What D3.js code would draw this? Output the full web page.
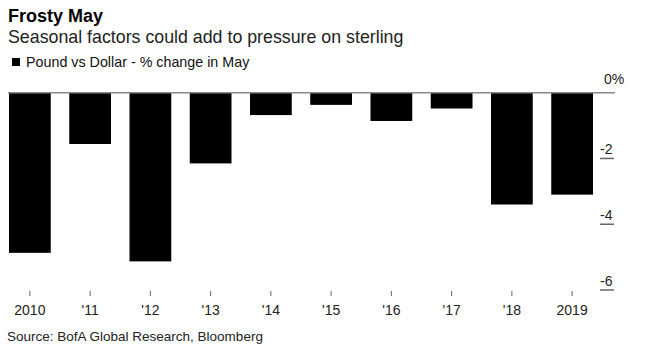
<!DOCTYPE html>
<html><head><meta charset="utf-8">
<script src="https://cdn.jsdelivr.net/npm/d3@7"></script>
<style>
html,body{margin:0;padding:0;background:#fff;}
svg{display:block;font-family:"Liberation Sans",Arial,Helvetica,sans-serif;}
</style></head>
<body>
<svg id="chart" width="649" height="350"></svg>
<script>
const years = ["2010","'11","'12","'13","'14","'15","'16","'17","'18","2019"];
const changes = [-4.87,-1.56,-5.13,-2.15,-0.68,-0.37,-0.86,-0.48,-3.40,-3.10];
const yTicks = [0,-2,-4,-6];
const yTickLabels = ["0%","-2","-4","-6"];

const svg = d3.select("#chart");

svg.append("text").attr("x",8).attr("y",22).attr("font-size",18).attr("font-weight","bold").attr("fill","#000").text("Frosty May");
svg.append("text").attr("x",8).attr("y",42.5).attr("font-size",17.8).attr("fill","#222").text("Seasonal factors could add to pressure on sterling");
svg.append("rect").attr("x",12).attr("y",58).attr("width",8).attr("height",8).attr("fill","#000");
svg.append("text").attr("x",26).attr("y",67).attr("font-size",14.3).attr("fill","#111").text("Pound vs Dollar - % change in May");

const x = d3.scaleBand().domain(years).range([9,593]).paddingInner(0.307).paddingOuter(0);
const y = d3.scaleLinear().domain([0,-6]).range([92.7,290]);

// bars
svg.append("g").selectAll("rect").data(changes).join("rect")
  .attr("x",(d,i)=>x(years[i]))
  .attr("y",y(0))
  .attr("width",x.bandwidth())
  .attr("height",d=>y(d)-y(0))
  .attr("fill","#000");

// zero line
svg.append("line").attr("x1",8).attr("x2",615).attr("y1",y(0)).attr("y2",y(0)).attr("stroke","#888").attr("stroke-width",1.6);

// right axis
const ya = svg.append("g");
yTicks.forEach((t,i)=>{
  if(t!==0){
    ya.append("line").attr("x1",600).attr("x2",614).attr("y1",y(t)).attr("y2",y(t)).attr("stroke","#666").attr("stroke-width",1.5);
  }
  ya.append("text").attr("x",t===0?604:600).attr("y",t===0?y(t)-9:y(t)-4).attr("font-size",14).attr("fill","#222").text(yTickLabels[i]);
});

// x axis ticks and labels
const xa = svg.append("g");
years.forEach(yr=>{
  const cx = x(yr)+x.bandwidth()/2;
  xa.append("line").attr("x1",cx).attr("x2",cx).attr("y1",291).attr("y2",296).attr("stroke","#666").attr("stroke-width",1);
  xa.append("text").attr("x",cx).attr("y",315).attr("text-anchor","middle").attr("font-size",14).attr("fill","#222").text(yr);
});

svg.append("text").attr("x",7).attr("y",341).attr("font-size",13.5).attr("fill","#222").text("Source: BofA Global Research, Bloomberg");
</script>
</body></html>
